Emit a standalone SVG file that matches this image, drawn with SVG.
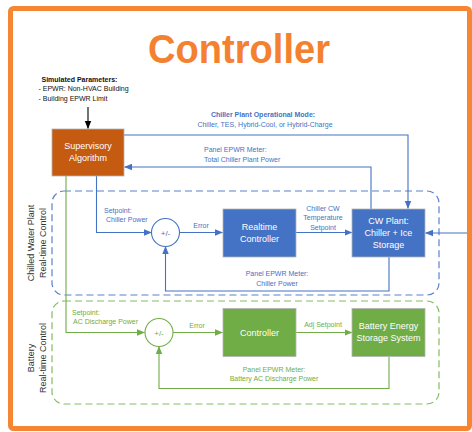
<svg xmlns="http://www.w3.org/2000/svg" width="472" height="432" viewBox="0 0 472 432">
  <defs>
    <marker id="arrBlue" markerUnits="userSpaceOnUse" markerWidth="8" markerHeight="8" viewBox="0 0 8 8" refX="7.5" refY="4" orient="auto">
      <path d="M0,0.8 L8,4 L0,7.2 Z" fill="#4472C4"/>
    </marker>
    <marker id="arrGreen" markerUnits="userSpaceOnUse" markerWidth="8" markerHeight="8" viewBox="0 0 8 8" refX="7.5" refY="4" orient="auto">
      <path d="M0,0.8 L8,4 L0,7.2 Z" fill="#70AD47"/>
    </marker>
    <marker id="arrBlack" markerUnits="userSpaceOnUse" markerWidth="8" markerHeight="8" viewBox="0 0 8 8" refX="7.5" refY="4" orient="auto">
      <path d="M0,0.8 L8,4 L0,7.2 Z" fill="#000"/>
    </marker>
  </defs>
  <style>
    text { font-family: "Liberation Sans", Arial, sans-serif; }
    .title { font-size: 40px; font-weight: bold; fill: #F4812F; }
    .lbl { font-size: 7px; }
    .b { font-weight: bold; }
    .blueT { fill: #4472C4; }
    .greenT { fill: #70AD47; }
    .blk { fill: #111; }
    .boxT { font-size: 9px; fill: #fff; text-anchor: middle; }
    .vert { font-size: 9px; fill: #333; text-anchor: middle; }
    .blueL { stroke: #4472C4; stroke-width: 1.1; fill: none; }
    .greenL { stroke: #70AD47; stroke-width: 1.1; fill: none; }
    .blueBox { fill: #4472C4; stroke: #B4B4B4; stroke-width: 0.8; }
    .greenBox { fill: #70AD47; stroke: #B4B4B4; stroke-width: 0.8; }
    .sumB { fill: #fff; stroke: #4472C4; stroke-width: 1.1; }
    .sumG { fill: #fff; stroke: #70AD47; stroke-width: 1.1; }
    .sumT { font-size: 8px; text-anchor: middle; }
    .dashB { fill: none; stroke: #5B80CC; stroke-width: 1.2; stroke-dasharray: 7 4; }
    .dashG { fill: none; stroke: #85BB62; stroke-width: 1.2; stroke-dasharray: 7 4; }
  </style>

  <!-- outer frame and heading -->
  <rect x="10.5" y="8.5" width="459" height="420" rx="3" fill="#fff" stroke="#F58634" stroke-width="5"/>
  <text class="title" x="239" y="63" text-anchor="middle" textLength="182" lengthAdjust="spacingAndGlyphs">Controller</text>

  <!-- simulated parameters -->
  <g id="params">
    <text class="lbl b blk" x="41.5" y="82">Simulated Parameters:</text>
    <text class="lbl blk" x="38.5" y="91">- EPWR: Non-HVAC Building</text>
    <text class="lbl blk" x="38.5" y="100.5">- Building EPWR Limit</text>
  </g>

  <!-- loop containers -->
  <g id="cw-loop">
    <rect class="dashB" x="52" y="191" width="387" height="104" rx="12"/>
    <text class="vert" transform="translate(33.5,243) rotate(-90)">Chilled Water Plant</text>
    <text class="vert" transform="translate(45.5,243) rotate(-90)">Real-time Control</text>
  </g>
  <g id="battery-loop">
    <rect class="dashG" x="52" y="301" width="387" height="103" rx="12"/>
    <text class="vert" transform="translate(33.5,358) rotate(-90)">Battery</text>
    <text class="vert" transform="translate(45.5,358) rotate(-90)">Real-time Control</text>
  </g>

  <!-- connectors -->
  <g id="connectors">
    <line x1="88" y1="107" x2="88" y2="128.5" stroke="#000" stroke-width="1.1" marker-end="url(#arrBlack)"/>
    <!-- operational mode -->
    <polyline class="blueL" points="124,135 408,135 408,208.5" marker-end="url(#arrBlue)"/>
    <!-- total plant power back to supervisor -->
    <polyline class="blueL" points="371,209 371,167 124.5,167" marker-end="url(#arrBlue)"/>
    <!-- chiller setpoint -->
    <polyline class="blueL" points="96.5,176 96.5,232.5 151.5,232.5" marker-end="url(#arrBlue)"/>
    <line class="blueL" x1="179.5" y1="232.5" x2="222.5" y2="232.5" marker-end="url(#arrBlue)"/>
    <line class="blueL" x1="296" y1="232.5" x2="352" y2="232.5" marker-end="url(#arrBlue)"/>
    <line class="blueL" x1="467" y1="233" x2="425.5" y2="233" marker-end="url(#arrBlue)"/>
    <polyline class="blueL" points="389,257 389,291 165.5,291 165.5,246.5" marker-end="url(#arrBlue)"/>
    <!-- battery branch -->
    <polyline class="greenL" points="66,176 66,332.5 144.5,332.5" marker-end="url(#arrGreen)"/>
    <line class="greenL" x1="173" y1="332.5" x2="222.5" y2="332.5" marker-end="url(#arrGreen)"/>
    <line class="greenL" x1="296" y1="332.5" x2="352" y2="332.5" marker-end="url(#arrGreen)"/>
    <polyline class="greenL" points="389,357 389,388.5 159,388.5 159,346.5" marker-end="url(#arrGreen)"/>
  </g>

  <!-- connector labels -->
  <g id="labels">
    <text class="lbl b blueT" x="263" y="117" text-anchor="middle">Chiller Plant Operational Mode:</text>
    <text class="lbl blueT" x="265" y="127" text-anchor="middle">Chiller, TES, Hybrid-Cool, or Hybrid-Charge</text>
    <text class="lbl blueT" x="204" y="152">Panel EPWR Meter:</text>
    <text class="lbl blueT" x="204" y="162">Total Chiller Plant Power</text>
    <text class="lbl blueT" x="104" y="213">Setpoint:</text>
    <text class="lbl blueT" x="106" y="222">Chiller Power</text>
    <text class="lbl blueT" x="201" y="228" text-anchor="middle">Error</text>
    <text class="lbl blueT" x="323" y="210.5" text-anchor="middle">Chiller CW</text>
    <text class="lbl blueT" x="323" y="220" text-anchor="middle">Temperature</text>
    <text class="lbl blueT" x="323" y="229.5" text-anchor="middle">Setpoint</text>
    <text class="lbl blueT" x="277" y="275.5" text-anchor="middle">Panel EPWR Meter:</text>
    <text class="lbl blueT" x="277" y="285.5" text-anchor="middle">Chiller Power</text>
    <text class="lbl greenT" x="72" y="314.5">Setpoint:</text>
    <text class="lbl greenT" x="73" y="323.5">AC Discharge Power</text>
    <text class="lbl greenT" x="197" y="328" text-anchor="middle">Error</text>
    <text class="lbl greenT" x="323" y="327" text-anchor="middle">Adj Setpoint</text>
    <text class="lbl greenT" x="274" y="372" text-anchor="middle">Panel EPWR Meter:</text>
    <text class="lbl greenT" x="274" y="381" text-anchor="middle">Battery AC Discharge Power</text>
  </g>

  <!-- nodes -->
  <g id="supervisory">
    <rect x="52" y="129" width="72" height="47" fill="#C55A11" stroke="#B4B4B4" stroke-width="0.8"/>
    <text class="boxT" x="88" y="149">Supervisory</text>
    <text class="boxT" x="88" y="161">Algorithm</text>
  </g>
  <g id="sum-cw">
    <circle class="sumB" cx="165.5" cy="232.5" r="14"/>
    <text class="sumT blueT" x="165.5" y="235.5">+/-</text>
  </g>
  <g id="realtime-controller">
    <rect class="blueBox" x="223" y="209" width="73" height="48"/>
    <text class="boxT" x="259.5" y="230">Realtime</text>
    <text class="boxT" x="259.5" y="242">Controller</text>
  </g>
  <g id="cw-plant">
    <rect class="blueBox" x="352" y="209" width="73" height="48"/>
    <text class="boxT" x="388.5" y="224">CW Plant:</text>
    <text class="boxT" x="388.5" y="236">Chiller + Ice</text>
    <text class="boxT" x="388.5" y="248">Storage</text>
  </g>
  <g id="sum-battery">
    <circle class="sumG" cx="159" cy="332.5" r="14"/>
    <text class="sumT greenT" x="159" y="335.5">+/-</text>
  </g>
  <g id="battery-controller">
    <rect class="greenBox" x="223" y="308.5" width="73" height="48"/>
    <text class="boxT" x="259.5" y="336">Controller</text>
  </g>
  <g id="bess">
    <rect class="greenBox" x="352" y="308.5" width="73" height="48"/>
    <text class="boxT" x="388.5" y="329">Battery Energy</text>
    <text class="boxT" x="388.5" y="341">Storage System</text>
  </g>
</svg>
